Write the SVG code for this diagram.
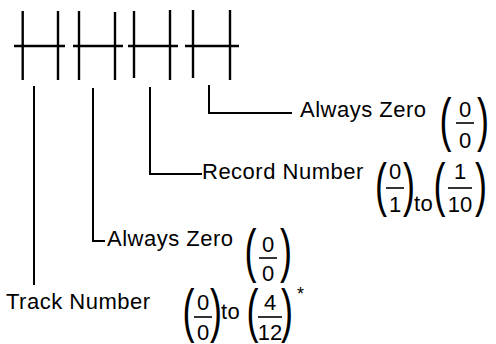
<svg xmlns="http://www.w3.org/2000/svg" width="496" height="344" viewBox="0 0 496 344">
<style>
.ln{stroke:#000;stroke-width:2.4;fill:none}
.cn{stroke:#000;stroke-width:2;fill:none}
.t{font-family:"Liberation Sans",Arial,sans-serif;font-size:22px;letter-spacing:0.5px;fill:#000}
.d{font-family:"Liberation Sans",Arial,sans-serif;font-size:22px;fill:#000;text-anchor:middle}
.p{font-family:"Liberation Sans",Arial,sans-serif;font-size:36px;fill:#000}
.bar{stroke:#000;stroke-width:1.6}
</style>
<rect width="496" height="344" fill="#fff"/>
<g id="fields">
<line class="ln" x1="22.7" y1="11" x2="22.7" y2="80"/>
<line class="ln" x1="58" y1="11" x2="58" y2="80"/>
<line class="ln" x1="79" y1="11" x2="79" y2="80"/>
<line class="ln" x1="115" y1="12" x2="115" y2="80"/>
<line class="ln" x1="134" y1="11" x2="134" y2="78"/>
<line class="ln" x1="170" y1="10" x2="170" y2="80"/>
<line class="ln" x1="193" y1="10" x2="193" y2="78"/>
<line class="ln" x1="230" y1="10" x2="230" y2="80"/>
<line class="ln" x1="14" y1="46" x2="65" y2="46"/>
<line class="ln" x1="73" y1="46" x2="123" y2="46"/>
<line class="ln" x1="128" y1="46" x2="178" y2="46"/>
<line class="ln" x1="185" y1="46" x2="239" y2="46"/>
</g>
<g id="connectors">
<polyline class="cn" points="34,86 34,285"/>
<polyline class="cn" points="93,88 93,241 105,241"/>
<polyline class="cn" points="150,87 150,174 202,174"/>
<polyline class="cn" points="209,85 209,113 292,113"/>
</g>
<g id="always-zero-1">
<text class="t" x="300" y="117">Always Zero</text>
<text class="p" transform="translate(439.5,140) scale(1,1.65)">(</text>
<text class="d" x="465" y="117">0</text>
<line class="bar" x1="456" y1="123" x2="474" y2="123"/>
<text class="d" x="465" y="148">0</text>
<text class="p" transform="translate(477,140) scale(1,1.65)">)</text>
</g>
<g id="record-number">
<text class="t" x="202" y="179">Record Number</text>
<text class="p" transform="translate(375,205) scale(1,1.65)">(</text>
<text class="d" x="395" y="179">0</text>
<line class="bar" x1="386" y1="188" x2="404" y2="188"/>
<text class="d" x="395" y="212">1</text>
<text class="p" transform="translate(403,205) scale(1,1.65)">)</text>
<text class="t" x="414" y="211">to</text>
<text class="p" transform="translate(433.5,205) scale(1,1.65)">(</text>
<text class="d" x="460" y="179">1</text>
<line class="bar" x1="448" y1="188" x2="472" y2="188"/>
<text class="d" x="460" y="212">10</text>
<text class="p" transform="translate(475,205) scale(1,1.65)">)</text>
</g>
<g id="always-zero-2">
<text class="t" x="107" y="246">Always Zero</text>
<text class="p" transform="translate(244.5,271) scale(1,1.65)">(</text>
<text class="d" x="268" y="252">0</text>
<line class="bar" x1="259" y1="258" x2="277" y2="258"/>
<text class="d" x="268" y="281">0</text>
<text class="p" transform="translate(280,271) scale(1,1.65)">)</text>
</g>
<g id="track-number">
<text class="t" x="6" y="309">Track Number</text>
<text class="p" transform="translate(182.5,331) scale(1,1.65)">(</text>
<text class="d" x="203" y="310">0</text>
<line class="bar" x1="194" y1="317" x2="212" y2="317"/>
<text class="d" x="203" y="340">0</text>
<text class="p" transform="translate(210,331) scale(1,1.65)">)</text>
<text class="t" x="221" y="319">to</text>
<text class="p" transform="translate(246.5,331) scale(1,1.65)">(</text>
<text class="d" x="270" y="310">4</text>
<line class="bar" x1="258" y1="317" x2="282" y2="317"/>
<text class="d" x="270" y="340">12</text>
<text class="p" transform="translate(281,331) scale(1,1.65)">)</text>
<text class="t" x="297" y="300" style="font-size:18px">*</text>
</g>
</svg>
